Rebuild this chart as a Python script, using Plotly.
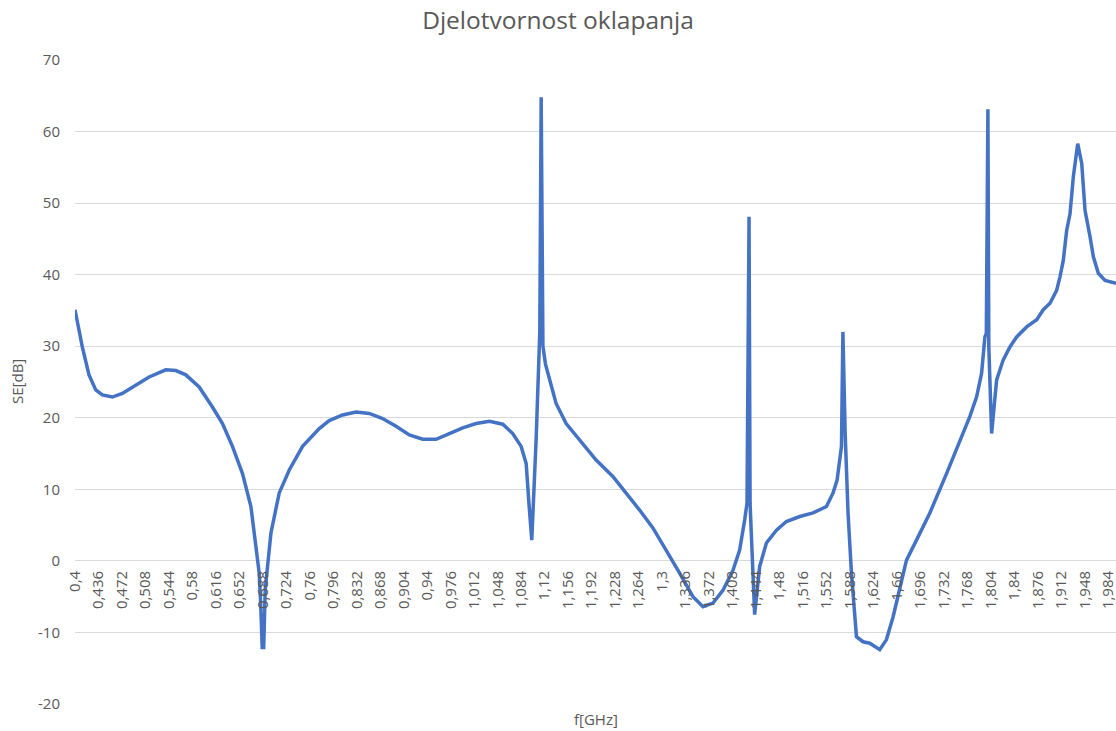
import plotly.graph_objects as go

# Frequency (GHz) and shielding effectiveness (dB)
freq_ghz = [
    0.400, 0.405, 0.4112, 0.4215, 0.4318, 0.4419, 0.4573, 0.4726, 0.4932, 0.5136,
    0.5392, 0.5546, 0.5699, 0.5903, 0.6107, 0.6261, 0.6414, 0.6568, 0.6697, 0.6773,
    0.6824, 0.6847, 0.6870, 0.6893, 0.6916, 0.7004, 0.7131, 0.7285, 0.7489, 0.7745,
    0.7898, 0.8102, 0.8308, 0.8512, 0.8716, 0.8922, 0.9126, 0.9330, 0.9536, 0.9740,
    0.9944, 1.0149, 1.0354, 1.0558, 1.0711, 1.0840, 1.0917, 1.0960, 1.1003, 1.1070,
    1.1126, 1.1147, 1.1174, 1.1213, 1.1274, 1.1376, 1.1530, 1.1735, 1.1990, 1.2246,
    1.2451, 1.2656, 1.2860, 1.3066, 1.3270, 1.3474, 1.3628, 1.3781, 1.3934, 1.4088,
    1.4190, 1.4267, 1.4303, 1.4334, 1.4350, 1.4420, 1.4497, 1.4600, 1.4754, 1.4907,
    1.5112, 1.5316, 1.5521, 1.5622, 1.5684, 1.5751, 1.5773, 1.5807, 1.5852, 1.5904,
    1.5981, 1.6082, 1.6185, 1.6338, 1.6441, 1.6543, 1.6645, 1.6748, 1.6901, 1.7106,
    1.7362, 1.7566, 1.7720, 1.7822, 1.7899, 1.7950, 1.7972, 1.7996, 1.8010, 1.8053,
    1.8130, 1.8231, 1.8334, 1.8437, 1.8590, 1.8744, 1.8845, 1.8948, 1.9050, 1.9101,
    1.9152, 1.9204, 1.9255, 1.9306, 1.9373, 1.9435, 1.9485, 1.9562, 1.9613, 1.9689,
    1.9792, 1.9960,
]
se_db = [
    35.1, 32.5, 29.9, 26.0, 23.9, 23.2, 22.9, 23.4, 24.6, 25.7,
    26.7, 26.6, 26.0, 24.3, 21.5, 19.2, 16.0, 12.2, 7.6, 2.5,
    -1.7, -6.0, -12.1, -12.1, -4.0, 3.9, 9.5, 12.7, 16.0, 18.5,
    19.6, 20.4, 20.8, 20.6, 19.9, 18.8, 17.6, 17.0, 17.0, 17.8,
    18.6, 19.2, 19.5, 19.1, 17.8, 16.0, 13.6, 8.0, 2.9, 17.0,
    32.0, 64.8, 30.0, 27.5, 25.3, 22.0, 19.2, 16.9, 14.1, 11.8,
    9.5, 7.1, 4.6, 1.5, -1.7, -5.0, -6.4, -5.9, -4.1, -1.3,
    1.5, 5.7, 8.1, 48.1, 8.0, -7.5, -0.8, 2.5, 4.3, 5.5,
    6.2, 6.7, 7.6, 9.5, 11.3, 16.0, 32.0, 18.0, 6.7, -1.7,
    -10.6, -11.3, -11.5, -12.4, -11.0, -7.8, -3.6, 0.1, 2.9, 6.7,
    12.2, 16.9, 20.2, 22.9, 26.2, 31.3, 31.8, 63.1, 30.0, 17.8,
    25.3, 28.1, 29.9, 31.3, 32.7, 33.7, 35.1, 36.0, 37.8, 39.7,
    42.0, 46.2, 48.5, 53.7, 58.3, 55.5, 49.0, 45.3, 42.5, 40.2,
    39.2, 38.8,
]

x_tick_labels = [
    "0,4", "0,436", "0,472", "0,508", "0,544", "0,58", "0,616", "0,652", "0,688",
    "0,724", "0,76", "0,796", "0,832", "0,868", "0,904", "0,94", "0,976", "1,012",
    "1,048", "1,084", "1,12", "1,156", "1,192", "1,228", "1,264", "1,3", "1,336",
    "1,372", "1,408", "1,444", "1,48", "1,516", "1,552", "1,588", "1,624", "1,66",
    "1,696", "1,732", "1,768", "1,804", "1,84", "1,876", "1,912", "1,948", "1,984",
]
y_tick_labels = ["-20", "-10", "0", "10", "20", "30", "40", "50", "60", "70"]

x_tick_vals = [float(s.replace(",", ".")) for s in x_tick_labels]
y_tick_vals = [float(s) for s in y_tick_labels]

FONT = "Open Sans"
GREY = "#595959"
GRID = "#d9d9d9"
Y_MIN, Y_MAX = -20, 70

fig = go.Figure()
fig.add_trace(go.Scatter(
    x=freq_ghz, y=se_db, mode="lines",
    line=dict(color="#4472c4", width=3.5),
    hoverinfo="skip", showlegend=False,
))

fig.update_layout(
    width=1116, height=731,
    margin=dict(l=75, r=0, t=60, b=27, autoexpand=False),
    paper_bgcolor="white", plot_bgcolor="white",
    font=dict(family=FONT, color=GREY, size=15),
    title=dict(
        text="Djelotvornost oklapanja",
        x=0.5, xref="container", xanchor="center",
        y=1 - 20 / 731, yref="container", yanchor="middle",
        font=dict(family=FONT, size=24.5, color=GREY),
    ),
    xaxis=dict(
        range=[0.4, 1.996], automargin=False,
        tickmode="array", tickvals=x_tick_vals, ticktext=x_tick_labels,
        tickangle=-90, ticks="", showgrid=False, zeroline=False, showline=False,
        anchor="free", position=(0 - Y_MIN) / (Y_MAX - Y_MIN),
        ticklabelstandoff=6, ticklabeloverflow="allow",
        tickfont=dict(family=FONT, size=15, color=GREY),
    ),
    yaxis=dict(
        range=[Y_MIN, Y_MAX], automargin=False,
        tickmode="array", tickvals=y_tick_vals, ticktext=y_tick_labels,
        ticks="", showgrid=True, gridcolor=GRID, gridwidth=1,
        zeroline=False, showline=False,
        ticklabelstandoff=14,
        tickfont=dict(family=FONT, size=15, color=GREY),
    ),
    annotations=[
        dict(text="SE[dB]", xref="paper", yref="paper", x=0, y=0.5,
             xanchor="center", yanchor="middle", xshift=-58, textangle=-90,
             showarrow=False, font=dict(family=FONT, size=15, color=GREY)),
        dict(text="f[GHz]", xref="paper", yref="paper", x=0.5, y=0,
             xanchor="center", yanchor="top", yshift=-3,
             showarrow=False, font=dict(family=FONT, size=15, color=GREY)),
    ],
)

fig.write_html(
    "out.html",
    config={"displayModeBar": False},
    post_script="document.body.style.margin='0';document.body.style.overflow='hidden';",
)
